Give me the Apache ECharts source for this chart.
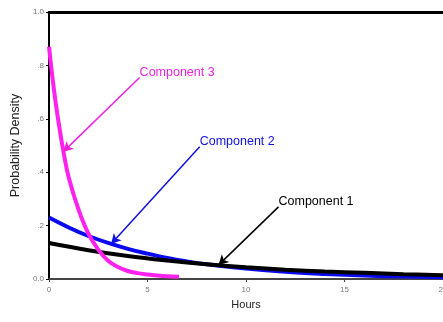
<!DOCTYPE html>
<html>
<head>
<meta charset="utf-8">
<script src="https://cdn.jsdelivr.net/npm/echarts@6/dist/echarts.min.js"></script>
<style>
  html, body { margin: 0; padding: 0; background: #fff; }
  #chart { width: 443px; height: 322px; }
</style>
</head>
<body>
<div id="chart"></div>
<script>
// values
const comp1Hours = [0, 2, 4, 6, 8, 10, 12, 14, 16, 18, 20];
const comp1Density = [0.135, 0.108, 0.086, 0.069, 0.055, 0.044, 0.035, 0.028, 0.023, 0.018, 0.014];

const comp2Hours = [0, 1, 2, 3, 4, 5, 6, 7, 8, 10, 12, 14, 16, 18, 20];
const comp2Density = [0.23, 0.193, 0.161, 0.135, 0.113, 0.095, 0.079, 0.066, 0.055, 0.039, 0.027, 0.019, 0.013, 0.009, 0.0065];

const comp3Hours = [0, 0.25, 0.5, 0.75, 1, 1.5, 2, 2.5, 3, 3.5, 4, 4.5, 5, 5.5, 6, 6.6];
const comp3Density = [0.87, 0.71, 0.58, 0.47, 0.38, 0.26, 0.17, 0.11, 0.068, 0.045, 0.03, 0.022, 0.017, 0.013, 0.01, 0.008];

const xTicks = ['0', '5', '10', '15', '20'];
const yTicks = ['0.0', '.2', '.4', '.6', '.8', '1.0'];

// annotation: label position and arrow tip, in data units
const notes = [
  { name: 'Component 1', color: '#000000', from: [11.65, 0.27], to: [8.6, 0.052] },
  { name: 'Component 2', color: '#1010e0', from: [7.65, 0.495], to: [3.15, 0.131] },
  { name: 'Component 3', color: '#ee22dd', from: [4.6, 0.755], to: [0.72, 0.476] }
];

const pairs = (xs, ys) => xs.map((x, i) => [x, ys[i]]);

const chart = echarts.init(document.getElementById('chart'));
const font = 'Liberation Sans, Arial, sans-serif';

function curve(name, xs, ys, color, note) {
  return {
    name: name,
    type: 'line',
    data: pairs(xs, ys),
    smooth: 0.4,
    showSymbol: false,
    lineStyle: { color: color, width: 4 },
    z: 3,
    markLine: {
      silent: true,
      symbol: ['none', 'arrow'],
      symbolSize: [8, 10],
      lineStyle: { color: note.color, width: 1.5, type: 'solid' },
      label: { show: false },
      data: [[{ coord: note.from }, { coord: note.to }]]
    },
    markPoint: {
      silent: true,
      symbol: 'circle',
      symbolSize: 0,
      label: {
        show: true,
        position: 'right',
        distance: 0,
        offset: [0, -5],
        color: note.color,
        fontFamily: font,
        fontSize: 12.5,
        formatter: note.name
      },
      data: [{ coord: note.from }]
    }
  };
}

const option = {
  backgroundColor: '#fff',
  animation: false,
  grid: { left: 49, right: 0, top: 12, bottom: 43, outerBoundsMode: 'none' },
  xAxis: [
    {
      type: 'value',
      min: 0,
      max: 20,
      interval: 5,
      name: 'Hours',
      nameLocation: 'middle',
      nameGap: 20,
      nameTextStyle: { color: '#222', fontFamily: font, fontSize: 11 },
      axisLine: { lineStyle: { color: '#444', width: 2 } },
      axisTick: { show: true, length: 3, lineStyle: { color: '#444' } },
      axisLabel: {
        color: '#777',
        fontFamily: font,
        fontSize: 8,
        margin: 7,
        formatter: (v) => xTicks[Math.round(v / 5)]
      },
      splitLine: { show: false }
    },
    {
      type: 'value',
      position: 'top',
      min: 0,
      max: 20,
      axisLine: { show: true, onZero: false, lineStyle: { color: '#000', width: 3 } },
      axisTick: { show: false },
      axisLabel: { show: false },
      splitLine: { show: false }
    }
  ],
  yAxis: {
    type: 'value',
    min: 0,
    max: 1,
    interval: 0.2,
    name: 'Probability Density',
    nameLocation: 'middle',
    nameGap: 27,
    nameTextStyle: { color: '#222', fontFamily: font, fontSize: 12.5 },
    axisLine: { show: true, lineStyle: { color: '#000', width: 2 } },
    axisTick: { show: true, length: 3, lineStyle: { color: '#000' } },
    axisLabel: {
      color: '#777',
      fontFamily: font,
      fontSize: 8,
      margin: 5,
      formatter: (v) => yTicks[Math.round(v / 0.2)]
    },
    splitLine: { show: false }
  },
  series: [
    curve('Component 2', comp2Hours, comp2Density, '#0a0af0', notes[1]),
    curve('Component 1', comp1Hours, comp1Density, '#000000', notes[0]),
    curve('Component 3', comp3Hours, comp3Density, '#ff22ee', notes[2])
  ]
};

chart.setOption(option);
</script>
</body>
</html>
